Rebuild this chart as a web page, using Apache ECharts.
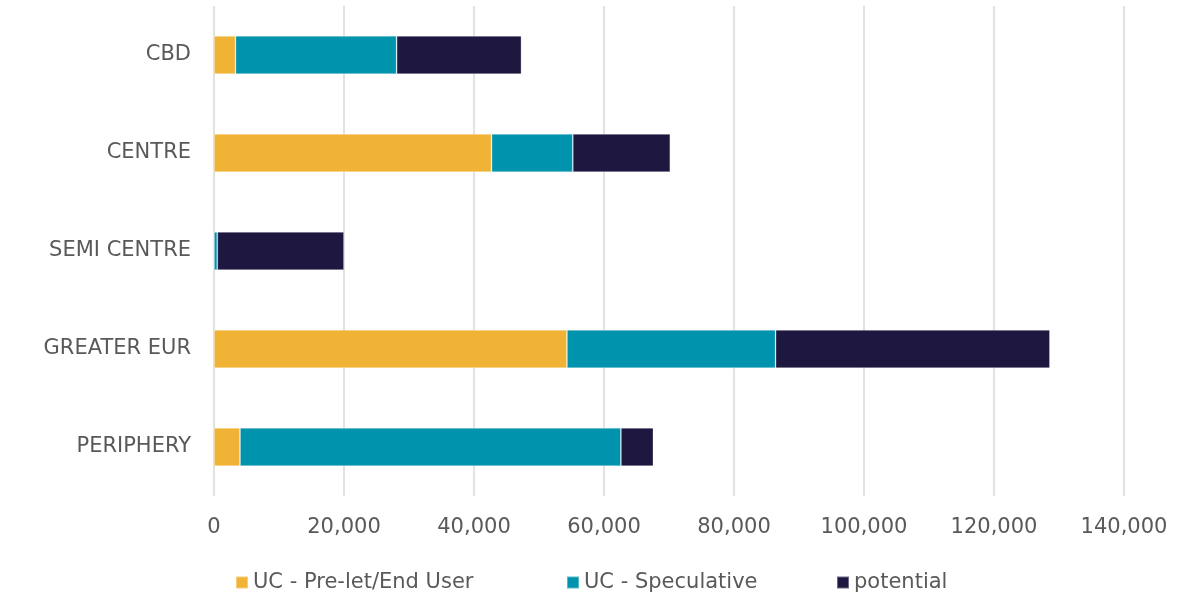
<!DOCTYPE html>
<html>
<head>
<meta charset="utf-8">
<script src="https://cdn.jsdelivr.net/npm/echarts@6/dist/echarts.min.js"></script>
<style>
  html, body { margin: 0; padding: 0; background: #fff; }
  #chart { width: 1177px; height: 595px; }
</style>
</head>
<body>
<div id="chart"></div>
<script>
// areas, top to bottom
const categories = ['CBD', 'CENTRE', 'SEMI CENTRE', 'GREATER EUR', 'PERIPHERY']
const seriesNames = ['UC - Pre-let/End User', 'UC - Speculative', 'potential']
const preLet = [3300, 42700, 0, 54300, 4000]
const speculative = [24800, 12500, 500, 32100, 58600]
const potential = [19200, 15000, 19500, 42200, 5000]

const colors = ['#F0B335', '#0093AE', '#1E1841']
const textColor = '#595959'
const fontFamily = '"DejaVu Sans", Lato, sans-serif'

const chart = echarts.init(document.getElementById('chart'))

const seriesData = [preLet, speculative, potential]
// legend entries sit at fixed spots, like the original
const legendLeft = [230, 561, 831]

chart.setOption({
  animation: false,
  textStyle: { fontFamily },
  color: colors,
  grid: { left: 214, right: 53, top: 6, bottom: 99 },
  legend: seriesNames.map((name, i) => ({
    top: 567,
    left: legendLeft[i],
    itemWidth: 12,
    itemHeight: 12,
    itemGap: 0,
    icon: 'rect',
    textStyle: { color: textColor, fontSize: 21, fontFamily, padding: [0, 0, 0, 0] },
    data: [name]
  })),
  xAxis: {
    type: 'value',
    min: 0,
    max: 140000,
    interval: 20000,
    axisLine: { show: false },
    axisTick: { show: false },
    axisLabel: {
      color: textColor,
      fontSize: 21,
      margin: 21,
      formatter: v => v.toLocaleString('en-US')
    },
    splitLine: { lineStyle: { color: '#d9d9d9', width: 1.5 } }
  },
  yAxis: {
    type: 'category',
    inverse: true,
    data: categories,
    axisLine: { show: false },
    axisTick: { show: false },
    axisLabel: { color: textColor, fontSize: 21, margin: 23 }
  },
  series: seriesNames.map((name, i) => ({
    name,
    type: 'bar',
    stack: 'total',
    barWidth: '39%',
    data: seriesData[i],
    itemStyle: { borderColor: 'rgba(255,255,255,0.35)', borderWidth: 0.8 }
  }))
})
</script>
</body>
</html>
